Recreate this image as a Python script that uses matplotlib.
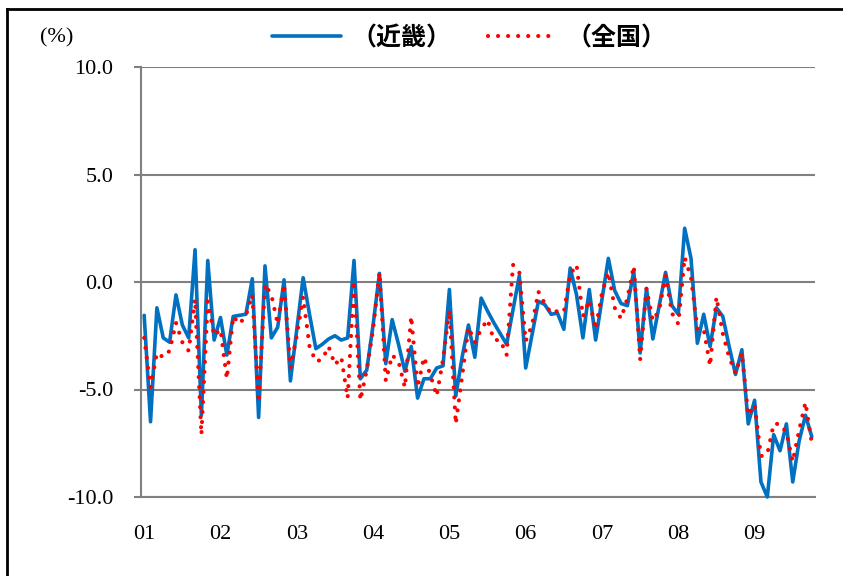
import matplotlib
matplotlib.use('Agg')
import matplotlib.pyplot as plt
from matplotlib.lines import Line2D
import numpy as np

# Monthly year-on-year change (%), Jan 2001 - Oct 2009
kinki = [-1.55, -6.5, -1.2, -2.6, -2.8, -0.6, -2.0, -2.6, 1.5, -6.2,
         1.0, -2.7, -1.65, -3.4, -1.6, -1.55, -1.5, 0.15,
         -6.3, 0.75, -2.6, -2.1, 0.1, -4.6, -2.2, 0.2, -1.5, -3.1,
         -2.9, -2.65, -2.5, -2.7, -2.6, 1.0, -4.5, -4.1,
         -2.0, 0.4, -3.8, -1.75, -2.9, -4.15, -3.0, -5.4, -4.5, -4.5,
         -4.0, -3.9, -0.35, -5.3, -3.5, -2.0, -3.5, -0.75,
         -1.35, -1.9, -2.4, -2.9, -1.3, 0.3, -4.0, -2.45, -0.9, -1.05,
         -1.5, -1.45, -2.2, 0.65, -0.6, -2.6, -0.35, -2.7,
         -0.8, 1.1, -0.4, -1.0, -1.1, 0.5, -3.3, -0.3, -2.65, -1.1,
         0.45, -1.1, -1.5, 2.5, 1.1, -2.85, -1.5, -3.0,
         -1.2, -1.6, -3.0, -4.3, -3.15, -6.6, -5.5, -9.3, -10.0, -7.1,
         -7.85, -6.6, -9.3, -7.4, -6.2, -7.2]
zenkoku = [-2.6, -4.9, -3.3, -3.5, -3.2, -1.9, -2.8, -3.2, -0.8, -7.1,
           -0.9, -2.5, -2.2, -4.5, -1.6, -1.95, -1.55, -0.6,
           -5.6, -0.1, -0.6, -1.95, -0.1, -4.0, -2.5, -0.7, -3.0, -3.7,
           -3.6, -3.0, -3.85, -3.5, -5.4, 0.05, -5.5, -4.1,
           -2.2, 0.45, -4.6, -3.4, -3.7, -4.9, -1.6, -4.9, -3.5, -4.3,
           -5.3, -3.6, -1.3, -6.6, -4.4, -2.1, -2.8, -2.2,
           -1.75, -2.7, -2.7, -3.4, 0.8, 0.45, -2.75, -2.0, -0.45, -1.0,
           -1.45, -1.35, -1.4, 0.35, 0.8, -1.6, -0.85, -2.2,
           -0.5, 0.45, -1.2, -1.7, -0.75, 0.75, -3.6, -0.3, -1.8, -1.3,
           0.3, -1.45, -1.95, 1.15, 0.2, -2.2, -2.2, -3.9,
           -0.7, -2.4, -3.5, -4.25, -3.3, -6.2, -5.7, -8.1, -8.0, -6.6,
           -6.6, -7.0, -8.35, -6.9, -5.6, -7.5]
year_labels = ['01', '02', '03', '04', '05', '06', '07', '08', '09']
y_ticks = [-10.0, -5.0, 0.0, 5.0, 10.0]
series_names = ['（近畿）', '（全国）']

plt.rcParams['font.family'] = ['Liberation Serif', 'DejaVu Serif']

W, H = 843, 576
fig = plt.figure(figsize=(W / 100, H / 100), dpi=100)
ax = fig.add_axes([141 / W, 1 - 497 / H, (815 - 141) / W, (497 - 67) / H])

x = np.arange(len(kinki))
grey = '#808080'

ax.plot(x, kinki, color='#0070C0', lw=2.6, solid_joinstyle='round',
        solid_capstyle='round', label=series_names[0], zorder=3, clip_on=False)
ax.plot(x, zenkoku, color='#FF0000', lw=3.0, linestyle=(0, (0.01, 2.4)),
        dash_capstyle='round', label=series_names[1], zorder=4, clip_on=False)

ax.set_xlim(-0.5, len(kinki) - 0.5)
ax.set_ylim(-10, 10)
ax.set_yticks(y_ticks)
ax.set_yticklabels([f'{v:.1f}' for v in y_ticks])
ax.set_xticks(np.arange(0, len(kinki), 12)[:len(year_labels)])
ax.set_xticklabels(year_labels)

ax.yaxis.grid(True, color=grey, lw=1.5)
ax.set_axisbelow(True)
for s in ['top', 'right']:
    ax.spines[s].set_visible(False)
ax.spines['left'].set_color(grey)
ax.spines['left'].set_linewidth(1.5)
ax.spines['bottom'].set_color(grey)
ax.spines['bottom'].set_linewidth(1.5)

ax.tick_params(axis='y', direction='out', length=5, width=1.5, color=grey,
               pad=15, labelsize=16)
ax.tick_params(axis='x', length=0, pad=20, labelsize=16)

fig.text(57 / W, 1 - 38 / H, '(%)', ha='center', va='center', fontsize=16)

leg = ax.legend(loc='center', bbox_to_anchor=(469.5 / W, 1 - 38 / H),
                bbox_transform=fig.transFigure, ncol=2, frameon=False,
                borderpad=0, handlelength=2.76, handletextpad=0.4,
                columnspacing=1.45,
                prop={'family': ['Noto Sans CJK JP', 'DejaVu Sans'],
                      'weight': 'bold', 'size': 18})

# outer frame (left and top edges visible)
fig.add_artist(Line2D([7 / W, 7 / W], [0, 1 - 9 / H], color='black', lw=2,
                      transform=fig.transFigure))
fig.add_artist(Line2D([7 / W, 1], [1 - 9 / H, 1 - 9 / H], color='black', lw=2,
                      transform=fig.transFigure))

fig.savefig('out.png', dpi=100)
